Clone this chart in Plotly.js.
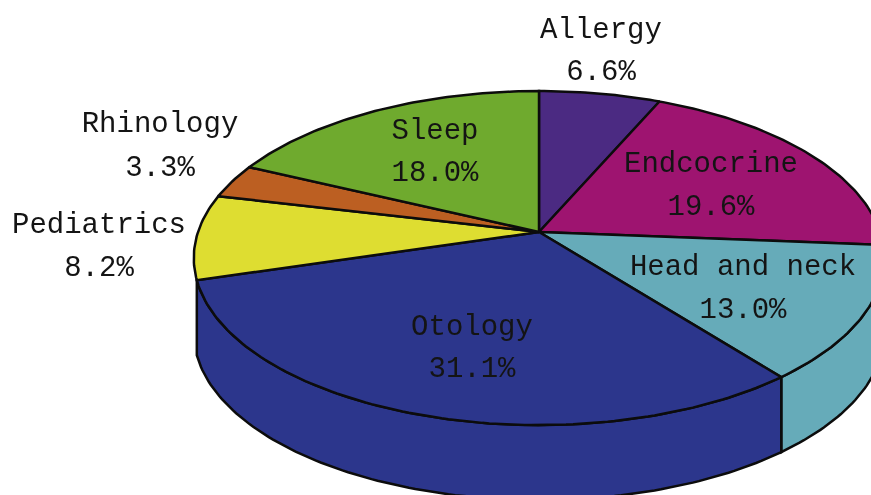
<!DOCTYPE html>
<html>
<head>
<meta charset="utf-8">
<script src="https://cdn.plot.ly/plotly-3.0.1.min.js"></script>
<style>
html,body{margin:0;padding:0;background:#fff;overflow:hidden}
#chart{width:871px;height:495px;filter:blur(0.45px)}
</style>
</head>
<body>
<div id="chart"></div>
<script>
// Data
var categories = ["Allergy", "Endcocrine", "Head and neck", "Otology", "Pediatrics", "Rhinology", "Sleep"];
var shares = [6.6, 19.6, 13.0, 31.1, 8.2, 3.3, 18.0];
var colors = ["#4B2A82", "#9E1470", "#66ABB9", "#2C368C", "#DEDD31", "#BC5F22", "#6FAA2E"];
var nameX = [601, 711, 743, 472, 99, 160, 435];
var nameY = [31, 165, 268, 328, 226, 125, 132];
var valueX = [601, 711, 743, 472, 99, 160, 435];
var valueY = [73, 208, 311, 370, 269, 169, 174];

// Projection of the tilted pie (perspective of a circle)
var apexX = 539, apexY = 232, radX = 341, radY = 163, tilt = 0.156, depth = 75;
var total = shares.reduce(function (a, b) { return a + b; }, 0);

function rimPoint(deg, drop) {
  var t = deg * Math.PI / 180;
  var d = 1 + tilt * Math.cos(t);
  return [apexX + radX * Math.sin(t) / d, apexY - radY * Math.cos(t) / d + (drop || 0)];
}
function arc(from, to, drop) {
  var pts = [], n = Math.max(2, Math.ceil(Math.abs(to - from)));
  for (var i = 0; i <= n; i++) pts.push(rimPoint(from + (to - from) * i / n, drop));
  return pts;
}
function polyTrace(pts, color, name) {
  return {
    type: "scatter", mode: "lines", fill: "toself", fillcolor: color, name: name,
    x: pts.map(function (p) { return p[0]; }),
    y: pts.map(function (p) { return p[1]; }),
    line: { color: "#0c0c0c", width: 2.5, shape: "linear" },
    hoverinfo: "name", showlegend: false
  };
}

var edges = [], c = 0;
shares.forEach(function (s) { edges.push([c / total * 360, (c + s) / total * 360]); c += s; });

var traces = [];
// Side walls: Head and neck from the right-hand extreme of the rim, then Otology
var wallStart = 85;
[[wallStart, edges[2][1], 2], [edges[3][0], edges[3][1], 3]].forEach(function (w) {
  var top = arc(w[0], w[1], 0);
  var bottom = arc(w[1], w[0], depth);
  traces.push(polyTrace(top.concat(bottom, [top[0]]), colors[w[2]], categories[w[2]]));
});
// Top faces
shares.forEach(function (s, i) {
  var pts = [[apexX, apexY]].concat(arc(edges[i][0], edges[i][1], 0), [[apexX, apexY]]);
  traces.push(polyTrace(pts, colors[i], categories[i]));
});
// Labels
var labelFont = { family: "'Liberation Mono', monospace", size: 29, color: "#141414" };
traces.push({
  type: "scatter", mode: "text", x: nameX, y: nameY, text: categories,
  textposition: "middle center", textfont: labelFont, hoverinfo: "skip",
  showlegend: false, cliponaxis: false
});
traces.push({
  type: "scatter", mode: "text", x: valueX, y: valueY,
  text: shares.map(function (s) { return s.toFixed(1) + "%"; }),
  textposition: "middle center", textfont: labelFont, hoverinfo: "skip",
  showlegend: false, cliponaxis: false
});

var axis = { visible: false, fixedrange: true, showgrid: false, zeroline: false };
var layout = {
  width: 871, height: 495,
  margin: { l: 0, r: 0, t: 0, b: 0 },
  paper_bgcolor: "#ffffff", plot_bgcolor: "#ffffff",
  showlegend: false,
  xaxis: Object.assign({ range: [0, 871] }, axis),
  yaxis: Object.assign({ range: [495, 0] }, axis)
};
Plotly.newPlot("chart", traces, layout, { displayModeBar: false, staticPlot: true });
</script>
</body>
</html>
